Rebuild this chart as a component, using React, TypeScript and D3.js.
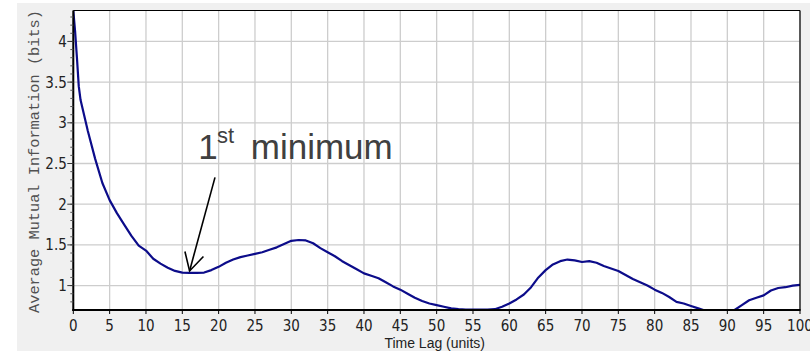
import React from "react";
import * as d3 from "d3";

// Time lag (units) at which the average mutual information was evaluated
const lags: number[] = [
  0, 0.25, 0.5, 0.75, 1, 2, 3, 4, 5, 6, 7, 8, 9, 10, 11, 12, 13, 14, 15, 16, 17, 18, 19, 20,
  21, 22, 23, 24, 25, 26, 27, 28, 29, 30, 31, 32, 33, 34, 35, 36, 37, 38, 39, 40,
  41, 42, 43, 44, 45, 46, 47, 48, 49, 50, 51, 52, 53, 54, 55, 56, 57, 58, 59, 60,
  61, 62, 63, 64, 65, 66, 67, 68, 69, 70, 71, 72, 73, 74, 75, 76, 77, 78, 79, 80,
  81, 82, 83, 84, 85, 86, 87, 88, 89, 90, 91, 92, 93, 94, 95, 96, 97, 98, 99, 100,
];

// Average mutual information (bits) for each lag
const ami: number[] = [
  4.38, 4.12, 3.8, 3.45, 3.28, 2.9, 2.56, 2.26, 2.05, 1.89, 1.75, 1.61, 1.49, 1.43, 1.33, 1.27, 1.22, 1.18, 1.16, 1.155, 1.155, 1.16, 1.19, 1.23,
  1.28, 1.32, 1.35, 1.37, 1.39, 1.41, 1.44, 1.47, 1.51, 1.55, 1.56, 1.555, 1.52, 1.46, 1.41, 1.36, 1.3, 1.25, 1.2, 1.15,
  1.12, 1.09, 1.04, 0.99, 0.95, 0.9, 0.85, 0.81, 0.78, 0.76, 0.74, 0.72, 0.71, 0.705, 0.705, 0.705, 0.705, 0.71, 0.74, 0.78,
  0.83, 0.89, 0.98, 1.1, 1.19, 1.26, 1.3, 1.32, 1.31, 1.29, 1.3, 1.28, 1.24, 1.21, 1.18, 1.13, 1.08, 1.04, 1.0, 0.95,
  0.91, 0.86, 0.8, 0.78, 0.75, 0.72, 0.69, 0.66, 0.66, 0.67, 0.7, 0.76, 0.82, 0.85, 0.88, 0.94, 0.97, 0.98, 1.0, 1.01,
];

const xTicks: number[] = d3.range(0, 101, 5);
const yTicks: number[] = [1, 1.5, 2, 2.5, 3, 3.5, 4];
const yMinorTicks: number[] = d3.range(8, 44).map((v) => v / 10);

const yTitle = "Average Mutual Information (bits)";
const xTitle = "Time Lag (units)";

// Annotation anchored in data coordinates: label, arrow tail, arrow tip
const minimumLabel = { lag: 17.2, value: 2.55 };
const arrowTail = { lag: 19.5, value: 2.33 };
const arrowTip = { lag: 16.0, value: 1.18 };

const W = 810;
const H = 351;
const plot = { left: 73.3, right: 800, top: 10.5, bottom: 310 };

export default function App() {
  const x = d3.scaleLinear().domain([0, 100]).range([plot.left, plot.right]);
  const y = d3.scaleLinear().domain([0.7, 4.38]).range([plot.bottom, plot.top]);

  const points: [number, number][] = lags.map((l, i) => [l, ami[i]]);
  const line = d3
    .line<[number, number]>()
    .x((d) => x(d[0]))
    .y((d) => y(d[1]))
    .curve(d3.curveLinear);

  const tickFont = "'Liberation Sans Narrow', 'DejaVu Sans Condensed', 'Arial Narrow', sans-serif";
  const sansFont = "'Liberation Sans', Arial, sans-serif";

  // arrow geometry
  const tx = x(arrowTail.lag);
  const ty = y(arrowTail.value);
  const hx = x(arrowTip.lag);
  const hy = y(arrowTip.value);
  const ang = Math.atan2(hy - ty, hx - tx);
  const headLen = 20;
  const headSpread = 0.5;
  const h1 = [hx - headLen * Math.cos(ang - headSpread), hy - headLen * Math.sin(ang - headSpread)];
  const h2 = [hx - headLen * Math.cos(ang + headSpread), hy - headLen * Math.sin(ang + headSpread)];

  const lx = x(minimumLabel.lag);
  const ly = y(minimumLabel.value);

  return (
    <svg
      width={W}
      height={H}
      style={{ position: "absolute", left: 0, top: 0, display: "block" }}
      xmlns="http://www.w3.org/2000/svg"
    >
      <defs>
        <clipPath id="plot-clip">
          <rect
            x={plot.left}
            y={plot.top}
            width={plot.right - plot.left}
            height={plot.bottom - plot.top}
          />
        </clipPath>
      </defs>

      <rect x={0} y={0} width={W} height={H} fill="#ffffff" />
      <rect x={17} y={3} width={W - 17} height={H - 3} fill="#f0f0f0" />
      <rect
        x={plot.left}
        y={plot.top}
        width={plot.right - plot.left}
        height={plot.bottom - plot.top}
        fill="#ffffff"
      />

      {/* grid */}
      {xTicks.map((t) => (
        <line
          key={`gx${t}`}
          x1={x(t)}
          x2={x(t)}
          y1={plot.top}
          y2={plot.bottom}
          stroke="#cdcdcd"
          strokeWidth={1.3}
        />
      ))}
      {yTicks.map((t) => (
        <line
          key={`gy${t}`}
          x1={plot.left}
          x2={plot.right}
          y1={y(t)}
          y2={y(t)}
          stroke="#cdcdcd"
          strokeWidth={1.3}
        />
      ))}

      {/* series */}
      <path
        d={line(points) ?? ""}
        fill="none"
        stroke="#0c0c8a"
        strokeWidth={2.2}
        strokeLinejoin="round"
        clipPath="url(#plot-clip)"
      />

      {/* frame */}
      <line x1={plot.left} x2={plot.right} y1={plot.top} y2={plot.top} stroke="#000" strokeWidth={1.2} />
      <line x1={plot.right} x2={plot.right} y1={plot.top} y2={plot.bottom} stroke="#000" strokeWidth={1.2} />
      <line x1={plot.left} x2={plot.left} y1={plot.top} y2={plot.bottom + 1} stroke="#000" strokeWidth={2} />
      <line x1={plot.left - 1} x2={plot.right + 0.6} y1={plot.bottom} y2={plot.bottom} stroke="#000" strokeWidth={2.2} />

      {/* y axis ticks and labels */}
      {yMinorTicks.map((t) => (
        <line
          key={`ym${t}`}
          x1={plot.left - 3}
          x2={plot.left}
          y1={y(t)}
          y2={y(t)}
          stroke="#555"
          strokeWidth={1}
        />
      ))}
      {yTicks.map((t) => (
        <g key={`yt${t}`}>
          <line x1={plot.left - 6} x2={plot.left} y1={y(t)} y2={y(t)} stroke="#333" strokeWidth={1} />
          <text
            x={plot.left - 6.5}
            y={y(t) + 5.5}
            textAnchor="end"
            fontFamily={tickFont}
            fontSize={15}
            fill="#222"
          >
            {String(t)}
          </text>
        </g>
      ))}

      {/* x axis ticks and labels */}
      {xTicks.map((t) => (
        <g key={`xt${t}`}>
          <line x1={x(t)} x2={x(t)} y1={plot.bottom} y2={plot.bottom + 4} stroke="#000" strokeWidth={1} />
          <text
            x={x(t)}
            y={330.7}
            textAnchor="middle"
            fontFamily={tickFont}
            fontSize={15}
            fill="#222"
          >
            {String(t)}
          </text>
        </g>
      ))}

      {/* axis titles */}
      <text
        x={434.7}
        y={348.3}
        textAnchor="middle"
        fontFamily={sansFont}
        fontSize={14}
        fill="#222"
      >
        {xTitle}
      </text>
      <text
        transform={`translate(38.5, 161.5) rotate(-90)`}
        textAnchor="middle"
        fontFamily="'Liberation Mono', 'DejaVu Sans Mono', monospace"
        fontSize={15.3}
        fill="#505050"
      >
        {yTitle}
      </text>

      {/* annotation */}
      <text x={lx} y={ly} fontFamily={sansFont} fontSize={35} fill="#404040">
        1
      </text>
      <text x={lx + 18.6} y={ly - 16} fontFamily={sansFont} fontSize={22} fill="#404040">
        st
      </text>
      <text x={lx + 52.5} y={ly} fontFamily={sansFont} fontSize={35} fill="#404040">
        minimum
      </text>
      <line x1={tx} y1={ty} x2={hx} y2={hy} stroke="#000" strokeWidth={1.6} />
      <polyline
        points={`${h1[0]},${h1[1]} ${hx},${hy} ${h2[0]},${h2[1]}`}
        fill="none"
        stroke="#000"
        strokeWidth={1.6}
      />
    </svg>
  );
}
